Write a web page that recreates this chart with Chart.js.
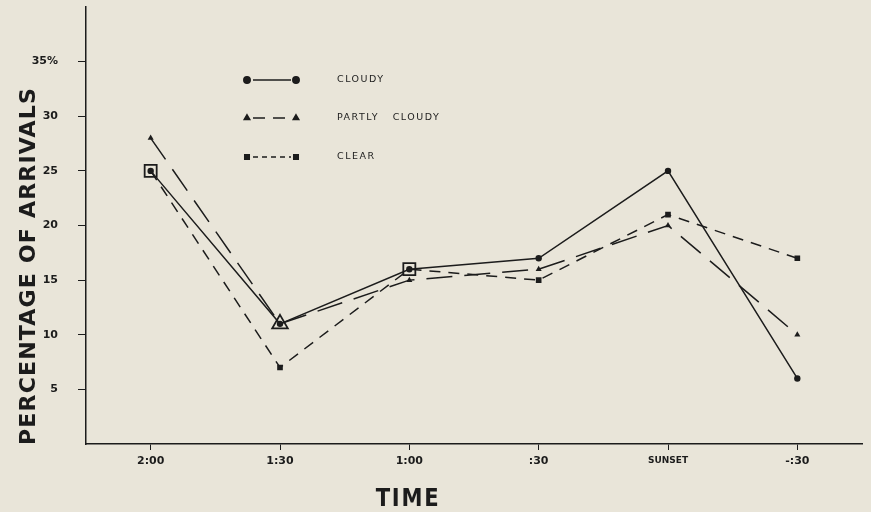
<!DOCTYPE html>
<html>
<head>
<meta charset="utf-8">
<script src="https://cdn.jsdelivr.net/npm/chart.js@4"></script>
<style>
  body { margin: 0; background: #e9e5d9; }
  #wrap { width: 871px; height: 512px; }
</style>
</head>
<body>
<div id="wrap"><canvas id="arrivalsChart" width="871" height="512"></canvas></div>
<script>
// Time before / after sunset
const timeLabels = ['2:00', '1:30', '1:00', ':30', 'SUNSET', '-:30'];
// Percentage of arrivals per sky condition
const cloudyValues = [25, 11, 16, 17, 25, 6];
const partlyValues = [28, 11, 15, 16, 20, 10];
const clearValues = [25, 7, 16, 15, 21, 17];
const yTickValues = [5, 10, 15, 20, 25, 30, 35];

const ink = '#1c1c1c';

// Legend drawn inside the plot, like the original figure
const insideLegend = {
  id: 'insideLegend',
  afterDraw(chart) {
    const ctx = chart.ctx;
    const rows = [
      { y: 80, dash: [], style: 'circle', text: 'CLOUDY' },
      { y: 118, dash: [12, 8], style: 'triangle', text: 'PARTLY   CLOUDY' },
      { y: 157, dash: [5, 4], style: 'rect', text: 'CLEAR' }
    ];
    ctx.save();
    rows.forEach(r => {
      ctx.strokeStyle = ink;
      ctx.lineWidth = 1.5;
      ctx.setLineDash(r.dash);
      ctx.beginPath();
      ctx.moveTo(253, r.y);
      ctx.lineTo(291, r.y);
      ctx.stroke();
      ctx.setLineDash([]);
      ctx.fillStyle = ink;
      [247, 296].forEach(px => {
        Chart.helpers.drawPoint(ctx, { pointStyle: r.style, radius: 3.2, borderWidth: 1 }, px, r.y);
        ctx.fill();
      });
      ctx.font = '9.5px "DejaVu Sans"';
      ctx.letterSpacing = '1.5px';
      ctx.textBaseline = 'middle';
      ctx.textAlign = 'left';
      ctx.fillText(r.text, 337, r.y);
    });
    ctx.restore();
  }
};

// Axis titles placed where the original has them
const axisTitles = {
  id: 'axisTitles',
  afterDraw(chart) {
    const ctx = chart.ctx;
    ctx.save();
    ctx.fillStyle = ink;
    ctx.textAlign = 'center';
    ctx.textBaseline = 'middle';
    ctx.font = 'bold 22px "DejaVu Sans"';
    ctx.letterSpacing = '1.2px';
    ctx.translate(29, 266);
    ctx.rotate(-Math.PI / 2);
    ctx.fillText('PERCENTAGE OF ARRIVALS', 0, 0);
    ctx.restore();

    // TIME sits under the 1:00 tick
    ctx.save();
    ctx.fillStyle = ink;
    ctx.textAlign = 'center';
    ctx.textBaseline = 'middle';
    ctx.font = 'bold 24px "DejaVu Sans"';
    ctx.letterSpacing = '2px';
    ctx.translate(408, 500);
    ctx.scale(0.88, 1);
    ctx.fillText('TIME', 0, 0);
    ctx.restore();
  }
};

const ctx = document.getElementById('arrivalsChart').getContext('2d');
new Chart(ctx, {
  type: 'line',
  data: {
    labels: timeLabels,
    datasets: [
      {
        label: 'CLOUDY',
        data: cloudyValues,
        borderColor: ink,
        backgroundColor: ink,
        borderWidth: 1.5,
        pointStyle: 'circle',
        pointRadius: 3.2,
        pointBorderWidth: 0
      },
      {
        label: 'PARTLY CLOUDY',
        data: partlyValues,
        borderColor: ink,
        borderDash: [26, 12],
        borderWidth: 1.5,
        pointStyle: 'triangle',
        // the 1:30 point is the big open triangle round the cloudy dot
        pointRadius: [3.5, 9, 3.5, 3.5, 3.5, 3.5],
        pointBackgroundColor: [ink, 'rgba(0,0,0,0)', ink, ink, ink, ink],
        pointBorderColor: ink,
        pointBorderWidth: [0, 1.8, 0, 0, 0, 0]
      },
      {
        label: 'CLEAR',
        data: clearValues,
        borderColor: ink,
        borderDash: [11, 8],
        borderWidth: 1.5,
        pointStyle: 'rect',
        // open squares where clear and cloudy coincide
        pointRadius: [8.5, 4, 8.5, 4, 4, 4],
        pointBackgroundColor: ['rgba(0,0,0,0)', ink, 'rgba(0,0,0,0)', ink, ink, ink],
        pointBorderColor: ink,
        pointBorderWidth: [1.8, 0, 1.8, 0, 0, 0]
      }
    ]
  },
  options: {
    responsive: false,
    animation: false,
    layout: { autoPadding: false, padding: { left: 0, right: 9, top: 7, bottom: 0 } },
    plugins: {
      legend: { display: false },
      tooltip: { enabled: false }
    },
    scales: {
      x: {
        offset: true,
        afterFit: (scale) => { scale.height = 68; },
        border: { display: true, color: ink, width: 1.5 },
        grid: { drawOnChartArea: false, drawTicks: true, tickLength: 6, color: ink, offset: false },
        ticks: {
          color: ink,
          padding: 5,
          maxRotation: 0,
          font: (c) => (c.tick && c.tick.label === 'SUNSET')
            ? { family: 'DejaVu Sans', size: 9, weight: 'bold' }
            : { family: 'DejaVu Sans', size: 11, weight: 'bold' }
        }
      },
      y: {
        min: 0,
        max: 40,
        afterFit: (scale) => {
          scale.width = 86;
          // the big tick padding should not push the plot down
          scale.paddingTop = 0;
          scale.paddingBottom = 0;
        },
        afterBuildTicks: (scale) => { scale.ticks = yTickValues.map(v => ({ value: v })); },
        border: { display: true, color: ink, width: 1.5 },
        grid: { drawOnChartArea: false, drawTicks: true, tickLength: 8, color: ink },
        ticks: {
          color: ink,
          padding: 20,
          font: { family: 'DejaVu Sans', size: 11, weight: 'bold' },
          callback: (v) => v === 35 ? '35%' : v
        }
      }
    }
  },
  plugins: [insideLegend, axisTitles]
});
</script>
</body>
</html>
